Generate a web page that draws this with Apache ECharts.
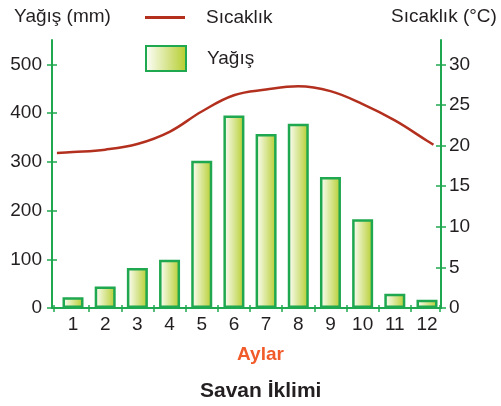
<!DOCTYPE html>
<html>
<head>
<meta charset="utf-8">
<script src="https://cdn.jsdelivr.net/npm/echarts@6/dist/echarts.min.js"></script>
<style>
  html, body { margin: 0; padding: 0; background: #ffffff; }
  #chart { width: 501px; height: 406px; }
</style>
</head>
<body>
<div id="chart"></div>
<script>
// Monthly rainfall (mm) for a savanna station
const months = [1, 2, 3, 4, 5, 6, 7, 8, 9, 10, 11, 12];
const rainfall = [22, 44, 82, 99, 302, 395, 357, 378, 269, 182, 29, 17];

// Temperature curve (°C), sampled along the month axis
const tempX = [0.5, 1, 2, 3, 4, 5, 6, 7, 8, 9, 10, 11, 12, 12.2];
const tempC = [19.1, 19.2, 19.5, 20.2, 21.7, 24.2, 26.2, 26.9, 27.3, 26.7, 25.1, 23.1, 20.6, 20.1];

// Tick labels
const rainTicks = [0, 100, 200, 300, 400, 500];
const tempTicks = [0, 5, 10, 15, 20, 25, 30];
const monthTickMarks = [0.4, 1.5, 2.5, 3.5, 4.5, 5.5, 6.5, 7.5, 8.5, 9.5, 10.5, 11.5, 12.4];

const FONT = '"Liberation Sans", Arial, sans-serif';
const TEXT = '#231f20';
const GREEN = '#1fa84f';
const RED = '#b3301f';

const rainData = months.map((m, i) => [m, rainfall[i]]);
const tempData = tempX.map((x, i) => [x, tempC[i]]);

const barFill = new echarts.graphic.LinearGradient(0, 0, 1, 0, [
  { offset: 0, color: '#ffffff' },
  { offset: 1, color: '#b4cd2b' }
]);

const chart = echarts.init(document.getElementById('chart'), null, { renderer: 'canvas' });

chart.setOption({
  animation: false,
  backgroundColor: '#ffffff',
  textStyle: { fontFamily: FONT },
  title: {
    text: 'Savan İklimi',
    left: 195,
    top: 376,
    textStyle: { fontFamily: FONT, fontSize: 21, fontWeight: 'bold', color: TEXT }
  },
  legend: [
    {
      left: 140, top: 3,
      itemWidth: 40, itemHeight: 3,
      data: [{ name: 'Sıcaklık', icon: 'rect' }],
      textStyle: { fontFamily: FONT, fontSize: 19, color: TEXT, padding: [10, 0, 0, 16] }
    },
    {
      left: 140, top: 40,
      itemWidth: 40, itemHeight: 25,
      data: [{ name: 'Yağış', icon: 'rect' }],
      textStyle: { fontFamily: FONT, fontSize: 19, color: TEXT, padding: [12, 0, 0, 16] }
    }
  ],
  grid: { left: 52, right: 60, top: 40, bottom: 98 },
  xAxis: [
    {
      type: 'value',
      min: 0.347, max: 12.435,
      position: 'bottom',
      name: 'Aylar',
      nameLocation: 'middle',
      nameGap: 37,
      nameTextStyle: { fontFamily: FONT, fontSize: 19, fontWeight: 'bold', color: '#f15a29', padding: [0, 0, 0, 28] },
      axisLine: { show: true, lineStyle: { color: GREEN, width: 2 } },
      axisTick: { show: true, length: 4, lineStyle: { color: GREEN, width: 1.5 }, customValues: monthTickMarks },
      axisLabel: { customValues: months, fontSize: 19, color: TEXT, margin: 7 },
      splitLine: { show: false }
    },
    {
      type: 'value',
      min: 0.347, max: 12.435,
      position: 'bottom',
      axisLine: { show: false },
      axisTick: { show: true, inside: true, length: 3, lineStyle: { color: GREEN, width: 1.5 }, customValues: monthTickMarks },
      axisLabel: { show: false },
      splitLine: { show: false }
    }
  ],
  yAxis: [
    {
      type: 'value',
      position: 'left',
      min: 0, max: 550,
      name: 'Yağış (mm)',
      nameLocation: 'end',
      nameGap: 14,
      nameTextStyle: { fontFamily: FONT, fontSize: 19, color: TEXT, padding: [0, 0, 0, 21] },
      axisLine: { show: true, lineStyle: { color: GREEN, width: 2 } },
      axisTick: { show: true, length: 5, lineStyle: { color: GREEN, width: 1.5 }, customValues: rainTicks },
      axisLabel: { customValues: rainTicks, fontSize: 19, color: TEXT, margin: 10 },
      splitLine: { show: false }
    },
    {
      type: 'value',
      position: 'right',
      min: 0, max: 33,
      name: 'Sıcaklık (°C)',
      nameLocation: 'end',
      nameGap: 14,
      nameTextStyle: { fontFamily: FONT, fontSize: 19, color: TEXT, padding: [0, 0, 0, 6] },
      axisLine: { show: true, lineStyle: { color: GREEN, width: 2 } },
      axisTick: { show: true, length: 5, lineStyle: { color: GREEN, width: 1.5 }, customValues: tempTicks },
      axisLabel: { customValues: tempTicks, fontSize: 19, color: TEXT, margin: 8 },
      splitLine: { show: false }
    },
    {
      type: 'value',
      position: 'left',
      min: 0, max: 550,
      axisLine: { show: false },
      axisTick: { show: true, inside: true, length: 5, lineStyle: { color: GREEN, width: 1.5 }, customValues: rainTicks },
      axisLabel: { show: false },
      splitLine: { show: false }
    },
    {
      type: 'value',
      position: 'right',
      min: 0, max: 33,
      axisLine: { show: false },
      axisTick: { show: true, inside: true, length: 5, lineStyle: { color: GREEN, width: 1.5 }, customValues: tempTicks },
      axisLabel: { show: false },
      splitLine: { show: false }
    }
  ],
  series: [
    {
      name: 'Yağış',
      type: 'bar',
      xAxisIndex: 0,
      yAxisIndex: 0,
      barWidth: 21,
      data: rainData,
      itemStyle: { color: barFill, borderColor: GREEN, borderWidth: 2.5 },
      z: 2
    },
    {
      name: 'Sıcaklık',
      type: 'line',
      xAxisIndex: 0,
      yAxisIndex: 1,
      data: tempData,
      smooth: 0.4,
      showSymbol: false,
      symbol: 'none',
      color: RED,
      lineStyle: { color: RED, width: 2.5 },
      itemStyle: { color: RED },
      z: 3
    }
  ]
});
</script>
</body>
</html>
